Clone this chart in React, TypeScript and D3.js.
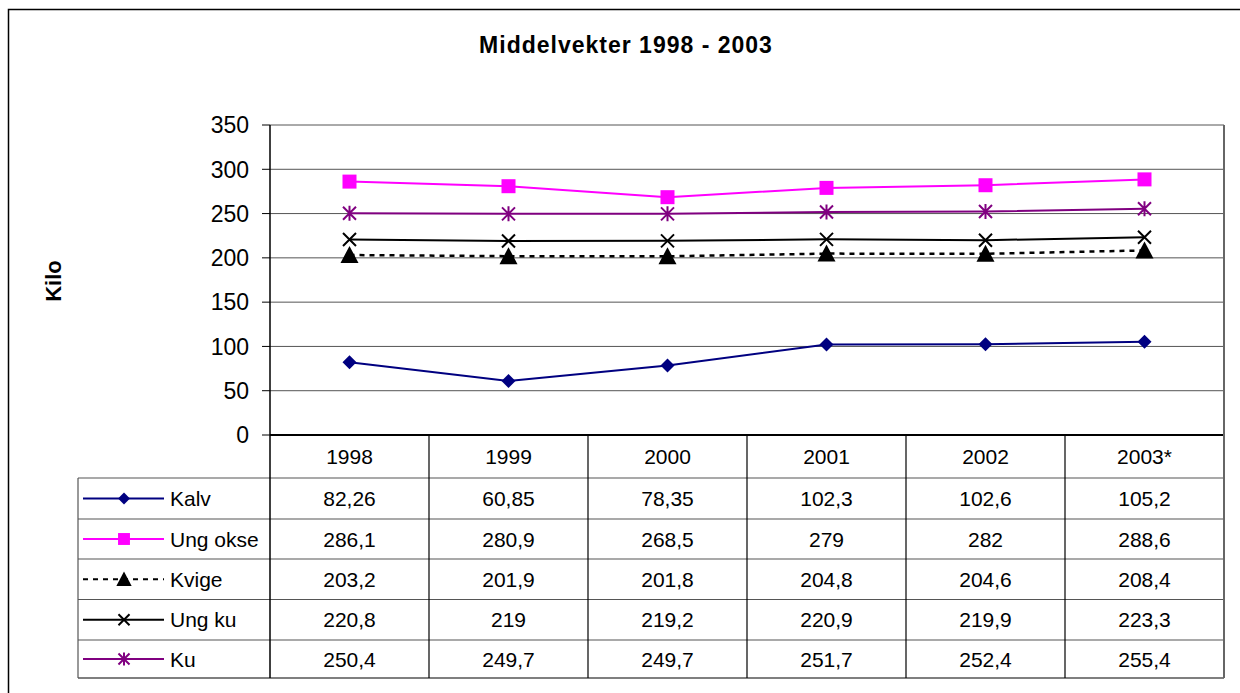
import React from "react";
import * as d3 from "d3";

const years = ["1998", "1999", "2000", "2001", "2002", "2003*"];
const seriesNames = ["Kalv", "Ung okse", "Kvige", "Ung ku", "Ku"];
const kalv = [82.26, 60.85, 78.35, 102.3, 102.6, 105.2];
const ungOkse = [286.1, 280.9, 268.5, 279, 282, 288.6];
const kvige = [203.2, 201.9, 201.8, 204.8, 204.6, 208.4];
const ungKu = [220.8, 219, 219.2, 220.9, 219.9, 223.3];
const ku = [250.4, 249.7, 249.7, 251.7, 252.4, 255.4];
const yTicks = [0, 50, 100, 150, 200, 250, 300, 350];

const seriesValues = [kalv, ungOkse, kvige, ungKu, ku];
const seriesColors = ["#000080", "#FF00FF", "#000000", "#000000", "#800080"];
const seriesMarkers = ["diamond", "square", "triangle", "x", "star"];

const fmt = (v: number) => String(v).replace(".", ",");

function Marker({ type, x, y, color, small }: { type: string; x: number; y: number; color: string; small?: boolean }) {
  const k = small ? 0.85 : 1;
  if (type === "diamond") {
    const s = 7 * k;
    return <path d={`M${x},${y - s}L${x + s},${y}L${x},${y + s}L${x - s},${y}Z`} fill={color} />;
  }
  if (type === "square") {
    const s = 7 * k;
    return <rect x={x - s} y={y - s} width={2 * s} height={2 * s} fill={color} />;
  }
  if (type === "triangle") {
    return <path d={`M${x},${y - 9 * k}L${x + 9 * k},${y + 8 * k}L${x - 9 * k},${y + 8 * k}Z`} fill={color} />;
  }
  if (type === "x") {
    const s = 6.5 * k;
    return (
      <path d={`M${x - s},${y - s}L${x + s},${y + s}M${x + s},${y - s}L${x - s},${y + s}`} stroke={color} strokeWidth={2} />
    );
  }
  const s = 6.5 * k;
  return (
    <path
      d={`M${x - s},${y - s}L${x + s},${y + s}M${x + s},${y - s}L${x - s},${y + s}M${x},${y - s - 1}L${x},${y + s + 1}`}
      stroke={color}
      strokeWidth={2}
    />
  );
}

export default function App() {
  const plotL = 270, plotR = 1224, plotT = 125, plotB = 435;
  const tableL = 78;
  const rowEdges = [435, 478, 519, 559, 599.5, 640, 678];

  const x = d3.scaleBand<string>().domain(years).range([plotL, plotR]);
  const y = d3.scaleLinear().domain([0, 350]).range([plotB, plotT]);
  const cx = (i: number) => (x(years[i]) as number) + x.bandwidth() / 2;
  const line = d3
    .line<number>()
    .x((_, i) => cx(i))
    .y((d) => y(d));

  const font = "Liberation Sans, Arial, sans-serif";

  return (
    <svg
      width={1240}
      height={693}
      style={{ position: "absolute", left: 0, top: 0, display: "block" }}
      fontFamily={font}
    >
      <rect x={0} y={0} width={1240} height={693} fill="#fff" />
      <rect x={8.5} y={9.5} width={1250} height={700} fill="none" stroke="#000" strokeWidth={1.5} />
      <text x={626} y={53} textAnchor="middle" fontWeight="bold" fontSize={23} letterSpacing={1}>
        Middelvekter 1998 - 2003
      </text>
      <text
        transform="translate(61,281) rotate(-90)"
        textAnchor="middle"
        fontWeight="bold"
        fontSize={22}
      >
        Kilo
      </text>

      {yTicks.map((t) => (
        <g key={t}>
          {t > 0 && <line x1={plotL} x2={plotR} y1={y(t)} y2={y(t)} stroke="#555" strokeWidth={1} />}
          <line x1={262} x2={plotL} y1={y(t)} y2={y(t)} stroke="#000" strokeWidth={1} />
          <text x={249} y={y(t)} dy="0.36em" textAnchor="end" fontSize={23}>
            {t}
          </text>
        </g>
      ))}
      <line x1={plotR} x2={plotR} y1={plotT} y2={plotB} stroke="#888" strokeWidth={2} />

      {rowEdges.map((ry, i) => (
        <line
          key={"r" + i}
          x1={i === 0 ? plotL : tableL}
          x2={plotR}
          y1={ry}
          y2={ry}
          stroke={i === 0 || i === rowEdges.length - 1 ? "#000" : "#555"}
          strokeWidth={i === 0 ? 2 : 1.2}
        />
      ))}
      <line x1={tableL} x2={tableL} y1={rowEdges[1]} y2={rowEdges[6]} stroke="#555" strokeWidth={1.2} />
      <line x1={plotL} x2={plotL} y1={plotT} y2={rowEdges[6]} stroke="#000" strokeWidth={1.5} />
      {years.map((yr, i) => (
        <line
          key={"c" + i}
          x1={(x(yr) as number) + x.bandwidth()}
          x2={(x(yr) as number) + x.bandwidth()}
          y1={i === years.length - 1 ? plotT : plotB}
          y2={rowEdges[6]}
          stroke={i === years.length - 1 ? "#666" : "#000"}
          strokeWidth={i === years.length - 1 ? 2 : 1.2}
        />
      ))}
      {years.map((yr, i) => (
        <text key={"h" + i} x={cx(i)} y={(rowEdges[0] + rowEdges[1]) / 2} dy="0.36em" textAnchor="middle" fontSize={21}>
          {yr}
        </text>
      ))}
      {seriesNames.map((name, si) => {
        const rc = (rowEdges[si + 1] + rowEdges[si + 2]) / 2;
        return (
          <g key={name}>
            <line
              x1={83}
              x2={164}
              y1={rc}
              y2={rc}
              stroke={seriesColors[si]}
              strokeWidth={2}
              strokeDasharray={si === 2 ? "5,5" : undefined}
            />
            <Marker type={seriesMarkers[si]} x={124} y={rc} color={seriesColors[si]} small />
            <text x={170} y={rc} dy="0.36em" fontSize={21}>
              {name}
            </text>
            {seriesValues[si].map((v, i) => (
              <text key={i} x={cx(i)} y={rc} dy="0.36em" textAnchor="middle" fontSize={21}>
                {fmt(v)}
              </text>
            ))}
          </g>
        );
      })}

      {seriesValues.map((vals, si) => (
        <g key={"s" + si}>
          <path
            d={line(vals) as string}
            fill="none"
            stroke={seriesColors[si]}
            strokeWidth={si === 2 ? 2.5 : 2}
            strokeDasharray={si === 2 ? "5,5" : undefined}
          />
          {vals.map((v, i) => (
            <Marker key={i} type={seriesMarkers[si]} x={cx(i)} y={y(v)} color={seriesColors[si]} />
          ))}
        </g>
      ))}
    </svg>
  );
}
